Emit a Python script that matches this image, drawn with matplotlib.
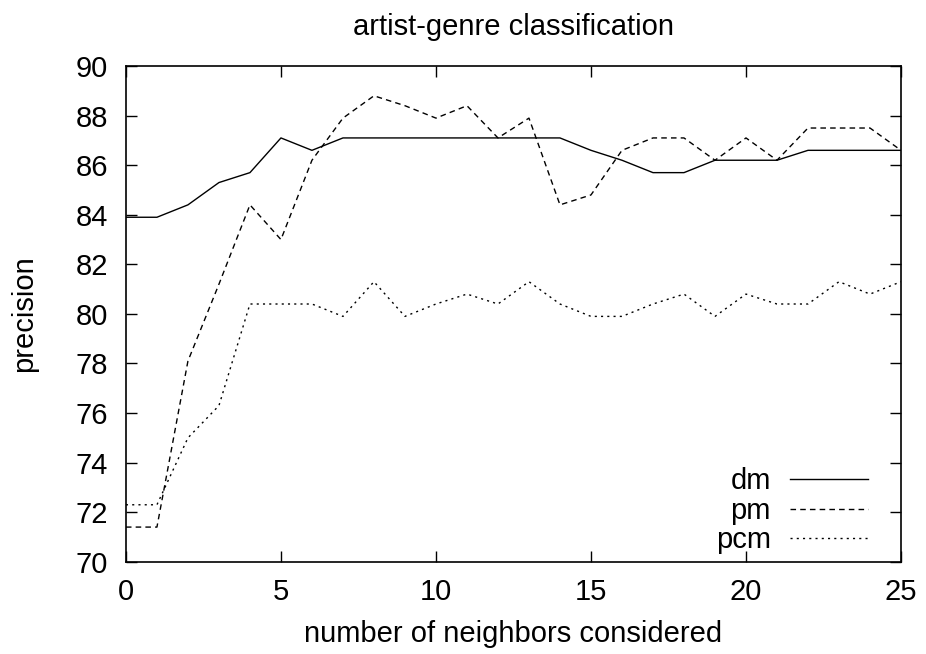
#!/usr/bin/env python3
import matplotlib
matplotlib.use('Agg')
import matplotlib.pyplot as plt

# number of neighbors considered
neighbors = list(range(26))

dm = [83.9, 83.9, 84.4, 85.3, 85.7, 87.1, 86.6, 87.1, 87.1, 87.1,
      87.1, 87.1, 87.1, 87.1, 87.1, 86.6, 86.2, 85.7, 85.7, 86.2,
      86.2, 86.2, 86.6, 86.6, 86.6, 86.6]
pm = [71.4, 71.4, 78.1, 81.2, 84.4, 83.0, 86.2, 87.9, 88.8, 88.4,
      87.9, 88.4, 87.1, 87.9, 84.4, 84.8, 86.6, 87.1, 87.1, 86.2,
      87.1, 86.2, 87.5, 87.5, 87.5, 86.6]
pcm = [72.3, 72.3, 75.0, 76.3, 80.4, 80.4, 80.4, 79.9, 81.3, 79.9,
       80.4, 80.8, 80.4, 81.3, 80.4, 79.9, 79.9, 80.4, 80.8, 79.9,
       80.8, 80.4, 80.4, 81.3, 80.8, 81.3]

plt.rcParams['font.family'] = ['Liberation Sans', 'DejaVu Sans']
plt.rcParams['font.size'] = 21

fig = plt.figure(figsize=(9.26, 6.54), dpi=100)
ax = fig.add_axes([0.136, 0.141, 0.837, 0.758])

ax.plot(neighbors, dm, color='black', lw=1.0, linestyle='-', label='dm')
ax.plot(neighbors, pm, color='black', lw=1.0, linestyle=(0, (4, 3)), label='pm')
ax.plot(neighbors, pcm, color='black', lw=1.0, linestyle=(0, (1.5, 3)), label='pcm')

ax.set_xlim(0, 25)
ax.set_ylim(70, 90)
ax.set_xticks(range(0, 26, 5))
ax.set_yticks(range(70, 91, 2))
ax.tick_params(direction='in', top=True, right=True, length=8, width=1)
ax.tick_params(axis='x', pad=12)
ax.tick_params(axis='y', pad=13)
for s in ax.spines.values():
    s.set_linewidth(1.2)

ax.set_title('artist-genre classification', fontsize=21, pad=22)
ax.set_xlabel('number of neighbors considered', labelpad=10)
ax.set_ylabel('precision', labelpad=27)

leg = ax.legend(loc='lower right', bbox_to_anchor=(0.958, 0.015),
                frameon=False, markerfirst=False, borderpad=0,
                borderaxespad=0, handlelength=2.7, handletextpad=0.65,
                labelspacing=0.05)
for t in leg.get_texts():
    t.set_ha('right')

fig.savefig('out.png', dpi=100)
